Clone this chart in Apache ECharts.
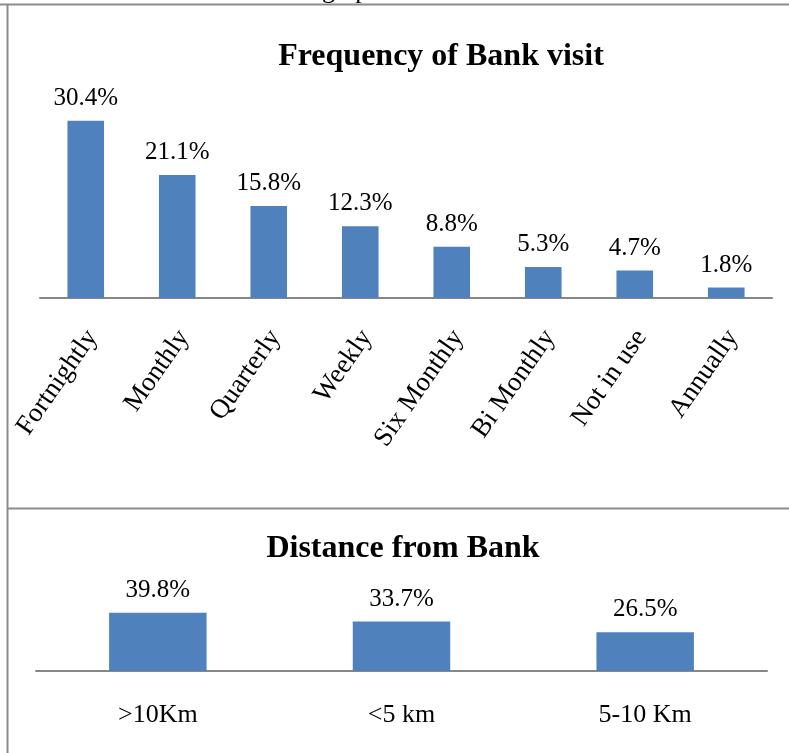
<!DOCTYPE html>
<html>
<head>
<meta charset="utf-8">
<script src="https://cdn.jsdelivr.net/npm/echarts@6/dist/echarts.min.js"></script>
<style>
  html, body { margin: 0; padding: 0; background: #fff; }
  #chart { width: 789px; height: 753px; }
</style>
</head>
<body>
<div id="chart"></div>
<script>
// Frequency of bank visits (percent of respondents)
const visitCategories = ['Fortnightly', 'Monthly', 'Quarterly', 'Weekly', 'Six Monthly', 'Bi Monthly', 'Not in use', 'Annually'];
const visitValues = [30.4, 21.1, 15.8, 12.3, 8.8, 5.3, 4.7, 1.8];

// Distance of respondents from the bank (percent)
const distanceCategories = ['>10Km', '<5 km', '5-10 Km'];
const distanceValues = [39.8, 33.7, 26.5];

const serif = '"Liberation Serif", "Times New Roman", serif';
const barColor = '#4F81BD';
const axisGray = '#878787';
const frameGray = '#8c8c8c';

const chart = echarts.init(document.getElementById('chart'), null, { renderer: 'canvas' });

const pct = p => p.value.toFixed(1) + '%';

chart.setOption({
  animation: false,
  backgroundColor: '#fff',
  title: [
    {
      text: 'Frequency of Bank visit',
      left: 436, top: 36, textAlign: 'center',
      textStyle: { fontFamily: serif, fontWeight: 'bold', fontSize: 32, color: '#000' }
    },
    {
      text: 'Distance from Bank',
      left: 398, top: 528, textAlign: 'center',
      textStyle: { fontFamily: serif, fontWeight: 'bold', fontSize: 32, color: '#000' }
    }
  ],
  grid: [
    { left: 40, width: 732, top: 94, height: 204, containLabel: false },
    { left: 36, width: 731, top: 605, height: 66, containLabel: false }
  ],
  xAxis: [
    {
      gridIndex: 0, type: 'category', data: visitCategories,
      axisLine: { lineStyle: { color: axisGray, width: 2 } },
      axisTick: { show: false },
      axisLabel: {
        interval: 0, rotate: 55, margin: 30,
        formatter: v => '{c|' + v + '}',
        rich: {
          c: { fontFamily: serif, fontSize: 27, color: '#000', padding: [16, 0, 0, 0] }
        }
      }
    },
    {
      gridIndex: 1, type: 'category', data: distanceCategories,
      axisLine: { lineStyle: { color: axisGray, width: 2 } },
      axisTick: { show: false },
      axisLabel: {
        interval: 0, margin: 31,
        fontFamily: serif, fontSize: 26, color: '#000'
      }
    }
  ],
  yAxis: [
    { gridIndex: 0, type: 'value', min: 0, max: 35, show: false, splitLine: { show: false } },
    { gridIndex: 1, type: 'value', min: 0, max: 45, show: false, splitLine: { show: false } }
  ],
  series: [
    {
      type: 'bar', xAxisIndex: 0, yAxisIndex: 0, data: visitValues,
      barWidth: '40%',
      itemStyle: { color: barColor },
      label: {
        show: true, position: 'top', distance: 10, formatter: pct,
        fontFamily: serif, fontSize: 25, color: '#000'
      }
    },
    {
      type: 'bar', xAxisIndex: 1, yAxisIndex: 1, data: distanceValues,
      barWidth: '40%',
      itemStyle: { color: barColor },
      label: {
        show: true, position: 'top', distance: 10, formatter: pct,
        fontFamily: serif, fontSize: 25, color: '#000'
      }
    }
  ],
  graphic: [
    // caption line running just above the frame
    {
      type: 'text', x: 322, y: 4, silent: true,
      style: { text: 'graph', font: '26px ' + serif, fill: '#000', verticalAlign: 'bottom' }
    },
    // frame around both charts
    { type: 'line', shape: { x1: 0, y1: 4.5, x2: 789, y2: 4.5 }, style: { stroke: frameGray, lineWidth: 2 } },
    { type: 'line', shape: { x1: 7.5, y1: 4, x2: 7.5, y2: 753 }, style: { stroke: frameGray, lineWidth: 2 } },
    { type: 'line', shape: { x1: 7, y1: 508.5, x2: 789, y2: 508.5 }, style: { stroke: frameGray, lineWidth: 2 } }
  ]
});
</script>
</body>
</html>
